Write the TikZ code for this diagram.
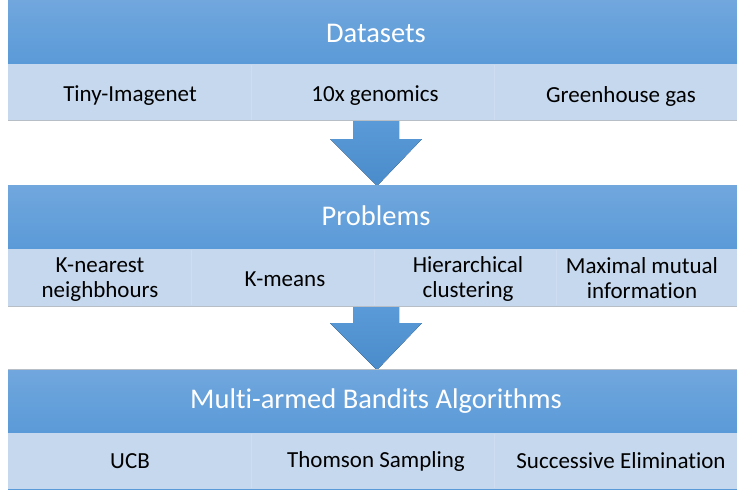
\documentclass[tikz,border=0pt]{standalone}
\usepackage{fontspec}
\setmainfont{Carlito}[Ligatures=NoCommon]
\definecolor{hdtop}{HTML}{71A7DD}
\definecolor{hdbot}{HTML}{5A9AD8}
\definecolor{subfill}{HTML}{C6D8ED}
\definecolor{sepline}{HTML}{CEDEF0}
\definecolor{arrtop}{HTML}{5A9AD8}
\definecolor{arrbot}{HTML}{4A8BCB}
\definecolor{graybd}{HTML}{B8BEC6}
\begin{document}
\begin{tikzpicture}[x=1pt,y=-1pt,
  header/.style={rectangle, inner sep=0pt, top color=hdtop, bottom color=hdbot, draw=none,
    minimum width=729pt, minimum height=64pt, anchor=north west},
  htext/.style={text=white, font=\fontsize{28.5}{32}\selectfont},
  subrow/.style={rectangle, inner sep=0pt, fill=subfill, draw=none,
    minimum width=729pt, minimum height=56pt, anchor=north west},
  cell/.style={font=\fontsize{23}{25}\selectfont, text=black, align=center},
  blockarrow/.style={top color=arrtop, bottom color=arrbot, draw=none}
]
\useasboundingbox (0,0) rectangle (737,490);

% Band 1
\node[header] (h1) at (8,0) {};
\node[htext] (t1) at (376,33) {Datasets};
\node[subrow] (s1) at (8,64) {};
\draw[graybd, line width=0.8pt] (s1.south west) -- (s1.south east);
\draw[sepline, line width=0.8pt] (251,65) -- (251,120) (494,65) -- (494,120);
\node[cell] (c11) at (130,96) {Tiny-Imagenet};
\node[cell] (c12) at (375,96) {10x genomics};
\node[cell] (c13) at (621,96) {Greenhouse gas};

% Arrow 1
\fill[blockarrow] (353,121) -- (399,121) -- (399,139) -- (422,139) -- (377,186) -- (330,139) -- (353,139) -- cycle;

% Band 2
\node[header] (h2) at (8,185) {};
\node[htext] (t2) at (376,216) {Problems};
\node[subrow, minimum height=57pt] (s2) at (8,249) {};
\draw[graybd, line width=0.8pt] (s2.south west) -- (s2.south east);
\draw[sepline, line width=0.8pt] (191,250) -- (191,305) (374,250) -- (374,305) (556,250) -- (556,305);
\node[cell] (c21) at (100,280) {K-nearest\\neighbhours};
\node[cell] (c22) at (285,279) {K-means};
\node[cell] (c23) at (468,279) {Hierarchical\\clustering};
\node[cell] (c24) at (642,278) {Maximal mutual\\information};

% Arrow 2
\fill[blockarrow] (353,307) -- (399,307) -- (399,323) -- (422,323) -- (377,370) -- (330,323) -- (353,323) -- cycle;

% Band 3
\node[header] (h3) at (8,369) {};
\draw[graybd, line width=0.6pt] (h3.north west) -- (h3.north east);
\node[htext] (t3) at (376,401) {Multi-armed Bandits Algorithms};
\node[subrow] (s3) at (8,433) {};
\draw[hdbot, line width=1.2pt] (s3.south west) -- (s3.south east);
\draw[sepline, line width=0.8pt] (251,434) -- (251,488) (494,434) -- (494,488);
\node[cell] (c31) at (130,461) {UCB};
\node[cell] (c32) at (376,461) {Thomson Sampling};
\node[cell] (c33) at (621,461) {Successive Elimination};
\end{tikzpicture}
\end{document}
